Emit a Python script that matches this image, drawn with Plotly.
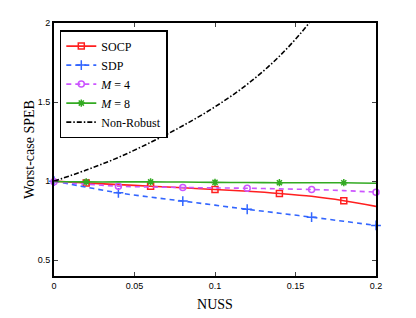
import plotly.graph_objects as go

x_all = [0, 0.02, 0.04, 0.06, 0.08, 0.1, 0.12, 0.14, 0.16, 0.18, 0.2]
socp = [1.0, 0.988, 0.978, 0.968, 0.958, 0.947, 0.936, 0.922, 0.904, 0.876, 0.84]
sdp = [1.0, 0.962, 0.926, 0.899, 0.874, 0.848, 0.822, 0.797, 0.772, 0.746, 0.72]
m4 = [0.996, 0.981, 0.968, 0.963, 0.96, 0.957, 0.955, 0.951, 0.947, 0.94, 0.93]
m8 = [0.998, 0.995, 0.995, 0.995, 0.994, 0.992, 0.991, 0.99, 0.99, 0.99, 0.987]
nonrobust = [1.0, 1.07, 1.15, 1.245, 1.35, 1.47, 1.612, 1.79, 2.02, 2.32, 2.72]

socp_mk_x = [0.02, 0.06, 0.1, 0.14, 0.18]
m8_mk_x = [0.02, 0.06, 0.1, 0.14, 0.18]
sdp_mk_x = [0, 0.04, 0.08, 0.12, 0.16, 0.2]
m4_mk_x = [0, 0.04, 0.08, 0.12, 0.16, 0.2]

C_RED = "#ff1f1f"
C_BLUE = "#3366ff"
C_PUR = "#cc55ff"
C_GRN = "#33aa22"

def pick(xs, ys, sel):
    return [ys[xs.index(s)] for s in sel]

fig = go.Figure()

def add_series(name, ys, color, dash, sym, mk_x, msize):
    fig.add_trace(go.Scatter(x=x_all, y=ys, mode="lines", line=dict(color=color, width=1.6, dash=dash, shape="spline"),
                             showlegend=False, hoverinfo="skip"))
    if mk_x:
        fig.add_trace(go.Scatter(x=mk_x, y=pick(x_all, ys, mk_x), mode="markers",
                                 marker=dict(symbol=sym, size=msize, color=color, line=dict(color=color, width=1.5)),
                                 showlegend=False, cliponaxis=False))
    fig.add_trace(go.Scatter(x=[None], y=[None], mode="lines+markers" if sym else "lines", name=name,
                             line=dict(color=color, width=1.6, dash=dash),
                             marker=dict(symbol=sym or "circle", size=msize, color=color, line=dict(color=color, width=1.5))))

DASH = "5px,4px"
add_series("SOCP", socp, C_RED, "solid", "square-open", socp_mk_x, 6)
add_series("SDP", sdp, C_BLUE, DASH, "cross-thin", sdp_mk_x, 7)
add_series("<i>M</i> = 4", m4, C_PUR, DASH, "circle-open", m4_mk_x, 6)
add_series("<i>M</i> = 8", m8, C_GRN, "solid", "asterisk", m8_mk_x, 6)
add_series("Non-Robust", nonrobust, "black", "5px,2px,1.5px,2px", None, [], 6)

fig.update_layout(
    width=416, height=318,
    margin=dict(l=46, r=48, t=15, b=50, autoexpand=False),
    paper_bgcolor="white", plot_bgcolor="white",
    legend=dict(x=0.018, y=0.972, xanchor="left", yanchor="top",
                bgcolor="white", bordercolor="black", borderwidth=1.5,
                font=dict(family="Liberation Serif", size=12, color="black"),
                itemwidth=30, tracegroupgap=0),
    font=dict(family="Liberation Sans", size=9, color="black"),
)
fig.update_xaxes(range=[0, 0.2], tickvals=[0, 0.05, 0.1, 0.15, 0.2], ticktext=["0", "0.05", "0.1", "0.15", "0.2"],
                 ticks="inside", ticklen=4, tickwidth=1, showline=True, linecolor="black", linewidth=2,
                 mirror="ticks", showgrid=False, zeroline=False, automargin=False,
                 title=dict(text="NUSS", font=dict(family="Liberation Serif", size=14), standoff=9))
fig.update_yaxes(range=[0.4, 2], tickvals=[0.5, 1, 1.5, 2], ticktext=["0.5", "1", "1.5", "2"],
                 ticks="inside", ticklen=4, tickwidth=1, showline=True, linecolor="black", linewidth=2,
                 mirror="ticks", showgrid=False, zeroline=False, automargin=False,
                 title=dict(text="Worst-case SPEB", font=dict(family="Liberation Serif", size=14), standoff=0))

fig.write_html("out.html")
